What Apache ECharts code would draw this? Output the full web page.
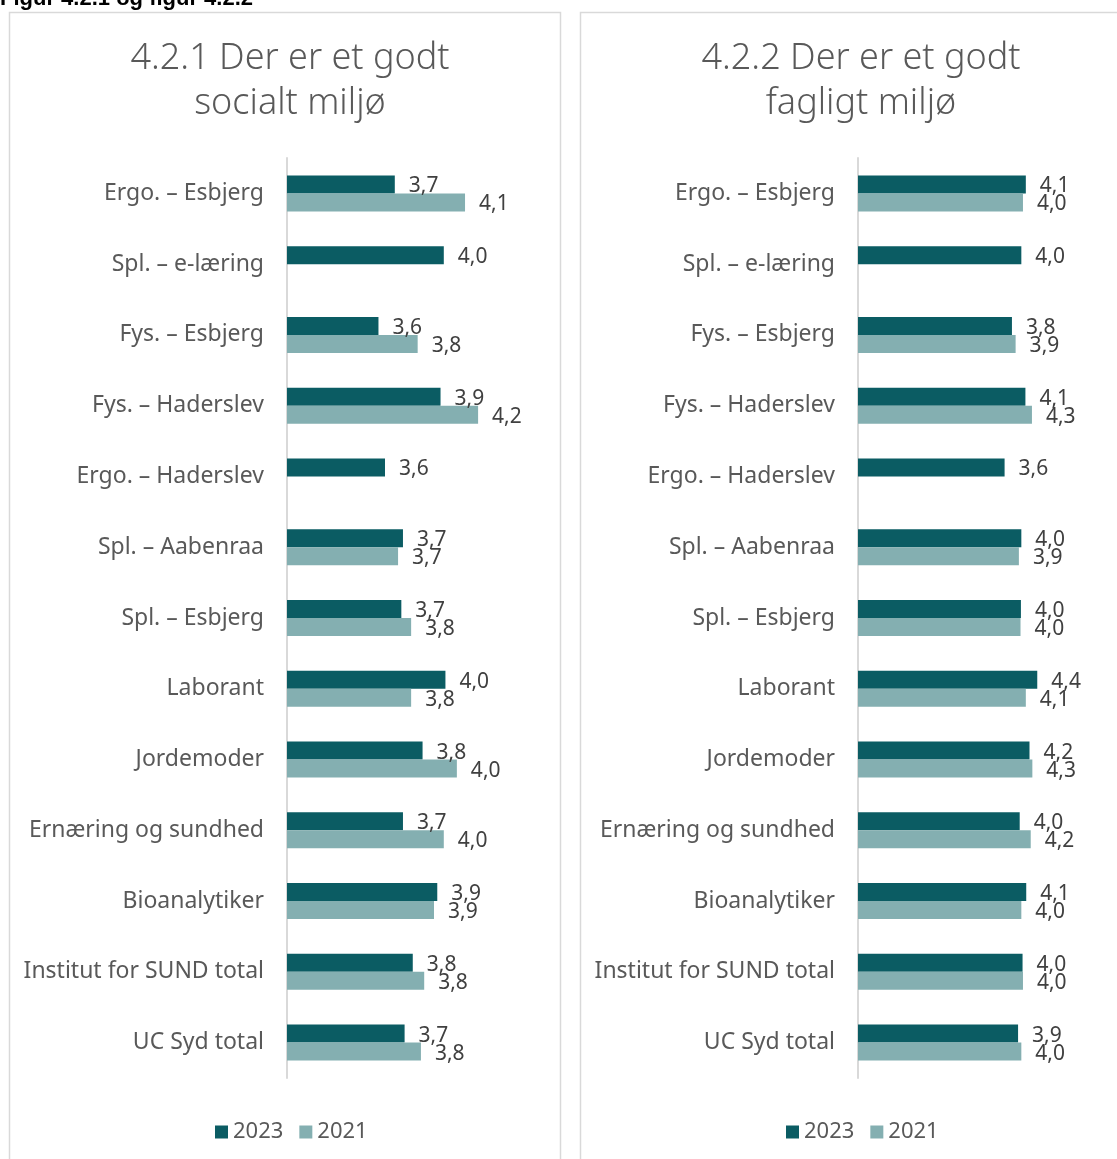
<!DOCTYPE html>
<html lang="da">
<head>
    <meta charset="UTF-8">
    <title>Figur 4.2.1 og figur 4.2.2</title>
    <style>
        html, body { margin: 0; padding: 0; background: #fff; }
        #chart { width: 1117px; height: 1159px; }
    </style>
</head>
<body>
<div id="chart"></div>
<script src="https://cdn.jsdelivr.net/npm/echarts@6/dist/echarts.min.js"></script>
<script type="text/javascript">
    // kategorier (oppefra og ned)
    var categories = ['Ergo. – Esbjerg', 'Spl. – e-læring', 'Fys. – Esbjerg', 'Fys. – Haderslev',
        'Ergo. – Haderslev', 'Spl. – Aabenraa', 'Spl. – Esbjerg', 'Laborant', 'Jordemoder',
        'Ernæring og sundhed', 'Bioanalytiker', 'Institut for SUND total', 'UC Syd total'];

    // 4.2.1 Der er et godt socialt miljø
    var socialt2023 = [3.66, 3.96, 3.56, 3.94, 3.60, 3.71, 3.70, 3.97, 3.83, 3.71, 3.92, 3.77, 3.72];
    var socialt2021 = [4.09, null, 3.80, 4.17, null, 3.68, 3.76, 3.76, 4.04, 3.96, 3.90, 3.84, 3.82];

    // 4.2.2 Der er et godt fagligt miljø
    var fagligt2023 = [4.11, 4.00, 3.77, 4.10, 3.59, 4.00, 3.99, 4.39, 4.20, 3.96, 4.12, 4.03, 3.92];
    var fagligt2021 = [4.04, null, 3.86, 4.26, null, 3.94, 3.98, 4.11, 4.27, 4.23, 4.00, 4.04, 4.00];

    var seriesNames = ['2023', '2021'];
    var colors = ['#0b5c63', '#84afb1'];
    var grey = '#595959';
    var font = 'Noto Sans';

    var myChart = echarts.init(document.getElementById('chart'));

    function fmt(p) {
        if (p.value == null) return '';
        return p.value.toFixed(1).replace('.', ',');
    }

    function bar(name, idx, data, color) {
        return {
            name: name,
            type: 'bar',
            xAxisIndex: idx,
            yAxisIndex: idx,
            data: data,
            barWidth: 18,
            barGap: '0%',
            itemStyle: { color: color },
            animation: false,
            label: {
                show: true,
                position: 'right',
                distance: 14,
                offset: [0, 2],
                formatter: fmt,
                fontFamily: font,
                fontSize: 21,
                color: '#404040'
            }
        };
    }

    function catAxis(idx) {
        return {
            type: 'category',
            gridIndex: idx,
            inverse: true,
            data: categories,
            axisLine: { lineStyle: { color: '#d9d9d9', width: 2 } },
            axisTick: { show: false },
            axisLabel: { fontFamily: font, fontSize: 23, color: grey, margin: 23 }
        };
    }

    var option = {
        backgroundColor: '#fff',
        textStyle: { fontFamily: font },
        graphic: [
            {
                type: 'rect',
                shape: { x: 9.5, y: 12.5, width: 551, height: 1170 },
                style: { fill: 'none', stroke: '#d9d9d9', lineWidth: 1.5 },
                silent: true
            },
            {
                type: 'rect',
                shape: { x: 580.5, y: 12.5, width: 560, height: 1170 },
                style: { fill: 'none', stroke: '#d9d9d9', lineWidth: 1.5 },
                silent: true
            },
            {
                type: 'text',
                x: 0,
                y: 10,
                style: {
                    text: 'Figur 4.2.1 og figur 4.2.2',
                    fontFamily: 'Liberation Sans',
                    fontWeight: 'bold',
                    fontSize: 22,
                    fill: '#000',
                    verticalAlign: 'bottom'
                }
            }
        ],
        title: [
            {
                text: '4.2.1 Der er et godt\nsocialt miljø',
                left: 285,
                top: 31,
                textAlign: 'center',
                textStyle: { fontFamily: font, fontWeight: 300, fontSize: 36, lineHeight: 45, color: grey }
            },
            {
                text: '4.2.2 Der er et godt\nfagligt miljø',
                left: 856,
                top: 31,
                textAlign: 'center',
                textStyle: { fontFamily: font, fontWeight: 300, fontSize: 36, lineHeight: 45, color: grey }
            }
        ],
        legend: [
            {
                data: seriesNames,
                left: 210,
                top: 1116,
                itemWidth: 13,
                itemHeight: 13,
                itemGap: 16,
                icon: 'rect',
                textStyle: { fontFamily: font, fontSize: 22, color: grey }
            },
            {
                data: seriesNames,
                left: 781,
                top: 1116,
                itemWidth: 13,
                itemHeight: 13,
                itemGap: 16,
                icon: 'rect',
                textStyle: { fontFamily: font, fontSize: 22, color: grey }
            }
        ],
        grid: [
            { left: 287, top: 158, width: 245, height: 920, containLabel: false },
            { left: 858, top: 158, width: 245, height: 920, containLabel: false }
        ],
        xAxis: [
            { type: 'value', gridIndex: 0, min: 3, max: 4.5, show: false },
            { type: 'value', gridIndex: 1, min: 0, max: 6, show: false }
        ],
        yAxis: [catAxis(0), catAxis(1)],
        series: [
            bar('2023', 0, socialt2023, colors[0]),
            bar('2021', 0, socialt2021, colors[1]),
            bar('2023', 1, fagligt2023, colors[0]),
            bar('2021', 1, fagligt2021, colors[1])
        ]
    };
    myChart.setOption(option);
</script>
</body>
</html>
